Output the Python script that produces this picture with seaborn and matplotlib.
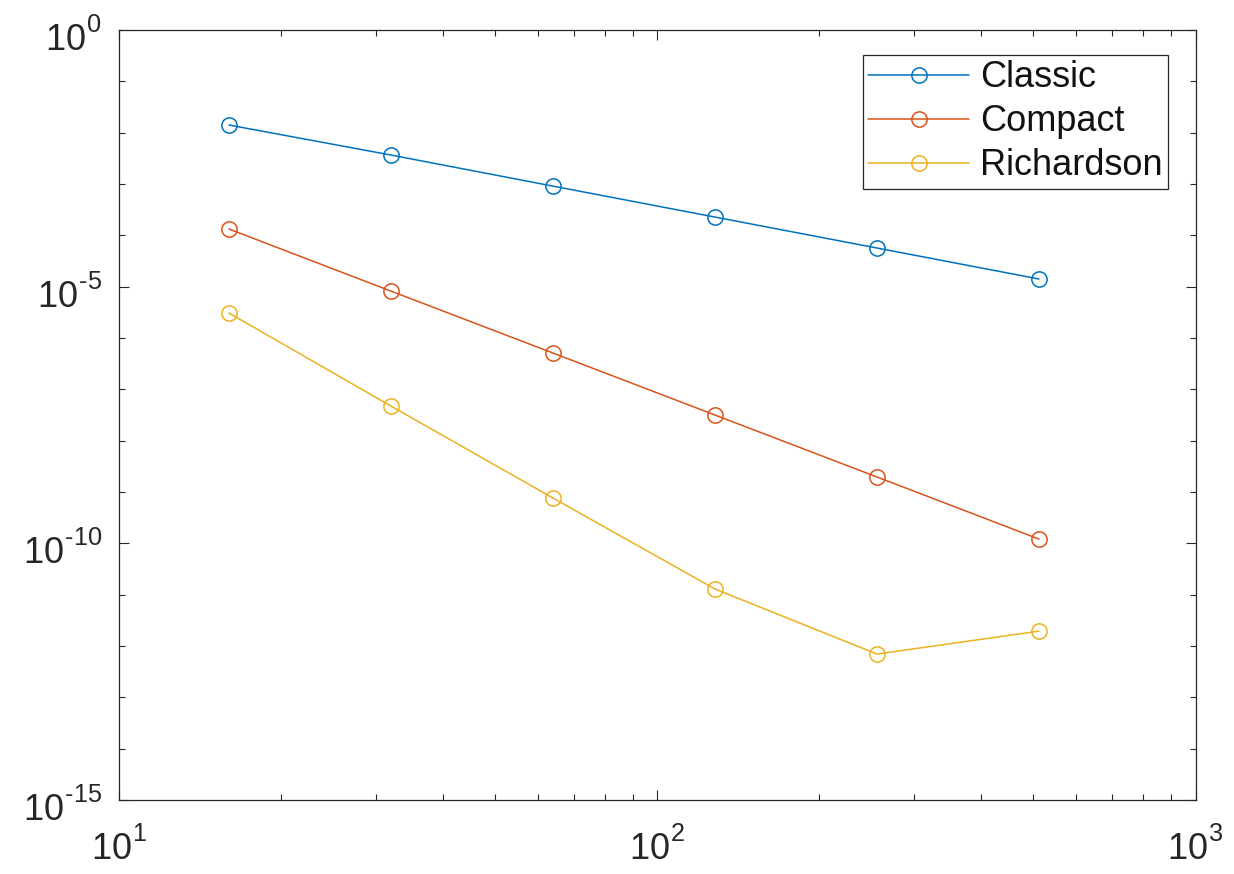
import numpy as np
import pandas as pd
import matplotlib
matplotlib.use("Agg")
import matplotlib.pyplot as plt
import matplotlib.ticker as mticker
import matplotlib.transforms as mtransforms
import seaborn as sns

try:
    from matplotlib import _mathtext as _mt
    _mt.FontConstantsBase.sup1 = 0.9
    _mt.FontConstantsBase.delta = 0.12
except Exception:
    pass

n_points = [16, 32, 64, 128, 256, 512]
classic = [1.41e-2, 3.67e-3, 9.1e-4, 2.27e-4, 5.66e-5, 1.41e-5]
compact = [1.33e-4, 8.2e-6, 5.1e-7, 3.16e-8, 1.96e-9, 1.21e-10]
richardson = [3.07e-6, 4.73e-8, 7.63e-10, 1.29e-11, 6.97e-13, 1.95e-12]
series_names = ["Classic", "Compact", "Richardson"]
colors = ["#0072BD", "#D95319", "#EDB120"]

sns.set_style("ticks")
plt.rcParams["font.family"] = ["Liberation Sans", "DejaVu Sans"]
plt.rcParams["mathtext.fontset"] = "custom"
plt.rcParams["mathtext.rm"] = "Liberation Sans"
plt.rcParams["mathtext.it"] = "Liberation Sans"
plt.rcParams["mathtext.default"] = "regular"

fig = plt.figure(figsize=(12.34, 8.74), dpi=100)
ax = fig.add_axes([119/1234, 1 - 800/874, (1195.5-119)/1234, (800-30)/874])

for name, vals, c in zip(series_names, [classic, compact, richardson], colors):
    sns.lineplot(x=n_points, y=vals, ax=ax, color=c, marker="o", markersize=11,
                 markerfacecolor="none", markeredgecolor=c, markeredgewidth=1.1,
                 linewidth=1.1, label=name)

ax.set_xscale("log")
ax.set_yscale("log")
ax.set_xlim(10, 1000)
ax.set_ylim(1e-15, 1e0)


def pow_fmt(v, pos=None):
    e = int(round(np.log10(v)))
    if e < 0:
        return r"$10^{\text{-}%d}$" % (-e)
    return r"$10^{%d}$" % e


ax.xaxis.set_major_locator(mticker.FixedLocator([1e1, 1e2, 1e3]))
ax.xaxis.set_minor_locator(mticker.LogLocator(base=10, subs=np.arange(2, 10), numticks=20))
ax.yaxis.set_major_locator(mticker.FixedLocator([1e-15, 1e-10, 1e-5, 1e0]))
ax.yaxis.set_minor_locator(mticker.FixedLocator([10.0**k for k in range(-15, 1)]))
ax.xaxis.set_major_formatter(mticker.FuncFormatter(pow_fmt))
ax.yaxis.set_major_formatter(mticker.FuncFormatter(pow_fmt))
ax.xaxis.set_minor_formatter(mticker.NullFormatter())
ax.yaxis.set_minor_formatter(mticker.NullFormatter())

ax.tick_params(which="both", direction="in", top=True, right=True, colors="#262626",
               labelcolor="#262626", labelsize=26, width=0.8)
ax.tick_params(which="major", length=7)
ax.tick_params(which="minor", length=4)
ax.tick_params(axis="x", pad=20)
ax.tick_params(axis="y", pad=12)
for s in ax.spines.values():
    s.set_visible(True)
    s.set_color("#262626")
    s.set_linewidth(0.9)

ax.set_xlabel("")
ax.set_ylabel("")

leg = ax.legend(loc="upper right", bbox_to_anchor=(0.9745, 0.9675), fontsize=26,
                frameon=True, fancybox=False, framealpha=1, edgecolor="#262626",
                handlelength=2.8, handletextpad=0.3, labelspacing=0.25,
                borderpad=0.15, borderaxespad=0)
leg.get_frame().set_linewidth(0.9)
for t in leg.get_texts():
    t.set_color("#111111")

# shift y tick labels slightly downward, as in the reference
offset = mtransforms.ScaledTranslation(0, -5/100, fig.dpi_scale_trans)
for tick in ax.yaxis.get_major_ticks():
    tick.label1.set_transform(tick.label1.get_transform() + offset)

fig.savefig("out.png", dpi=100, facecolor="white")
